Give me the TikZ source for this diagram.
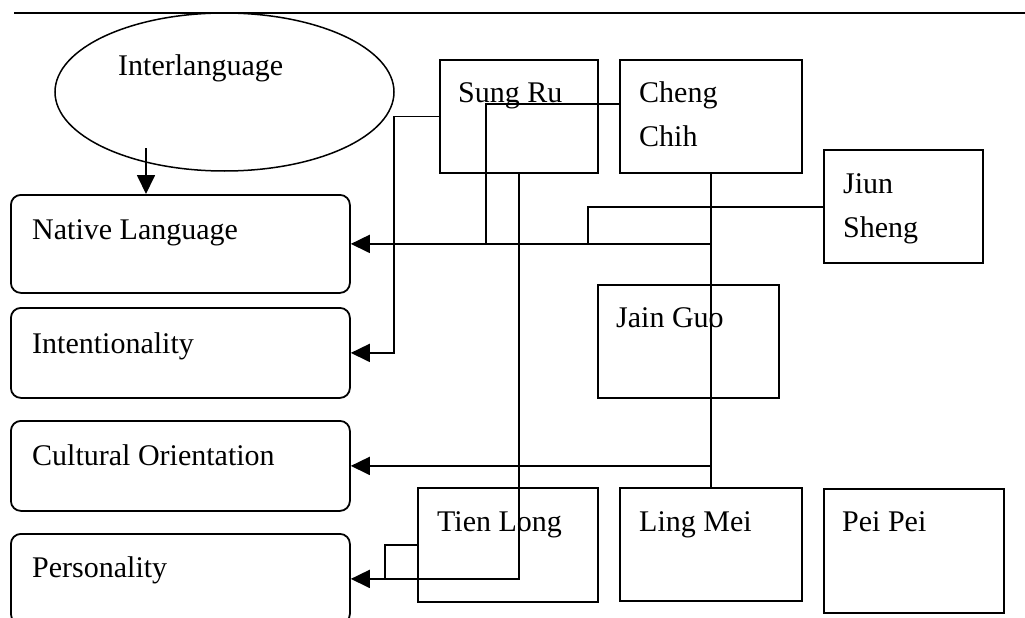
\documentclass[tikz,border=0pt]{standalone}
\usepackage{fontspec}
\setmainfont{Liberation Serif}
\usetikzlibrary{arrows.meta,shapes.geometric}

\begin{document}
\begin{tikzpicture}[x=1pt,y=-1pt,
  every node/.style={font=\fontsize{30}{44}\selectfont},
  pbox/.style={draw,line width=1.8pt,anchor=north west,inner sep=0pt},
  rbox/.style={pbox,rounded corners=10pt,minimum width=339pt},
  txt/.style={anchor=base west,inner sep=0pt,align=left},
  link/.style={line width=1.8pt},
  arr/.style={link,-{Triangle[length=19pt,width=18pt]}}]
	\useasboundingbox (0,0) rectangle (1025,618);
	\clip (0,0) rectangle (1025,618);
	\draw[line width=2.2pt] (14,13) -- (1025,13);
	% ellipse
	\node[draw,ellipse,line width=1.5pt,inner sep=0pt,minimum width=339pt,minimum height=158pt] (interlang) at (224.5,92) {};
	\node[txt] at (118,76) {Interlanguage};
	% left column
	\node[rbox,minimum height=98pt] (native) at (10,194) {};
	\node[rbox,minimum height=90pt] (intent) at (10,307) {};
	\node[rbox,minimum height=90pt] (cultural) at (10,420) {};
	\node[rbox,minimum height=90pt] (personality) at (10,533) {};
	\node[txt] at (32,239) {Native Language};
	\node[txt] at (32,353) {Intentionality};
	\node[txt] at (32,465) {Cultural Orientation};
	\node[txt] at (32,577) {Personality};
	% people
	\node[pbox,minimum width=158pt,minimum height=113pt] (sungru) at (439,59) {};
	\node[pbox,minimum width=182pt,minimum height=113pt] (chengchih) at (619,59) {};
	\node[pbox,minimum width=159pt,minimum height=113pt] (jiunsheng) at (823,149) {};
	\node[pbox,minimum width=181pt,minimum height=113pt] (jainguo) at (597,284) {};
	\node[pbox,minimum width=180pt,minimum height=114pt] (tienlong) at (417,487) {};
	\node[pbox,minimum width=182pt,minimum height=113pt] (lingmei) at (619,487) {};
	\node[pbox,minimum width=180pt,minimum height=124pt] (peipei) at (823,488) {};
	\node[txt] at (458,102) {Sung Ru};
	\node[txt] at (639,146) {Cheng\\Chih};
	\node[txt] at (843,237) {Jiun\\Sheng};
	\node[txt] at (616,327) {Jain Guo};
	\node[txt] at (437,531) {Tien Long};
	\node[txt] at (639,531) {Ling Mei};
	\node[txt] at (842,531) {Pei Pei};
	% links
	\coordinate (ilfoot) at (146,148);
	\draw[arr] (ilfoot) -- (ilfoot |- native.north);
	\draw[arr] (sungru.west) -- ++(-45,0) |- (intent.east);
	\draw[link] (chengchih.south) -- (lingmei.north);
	\draw[arr] (chengchih.south |- native.east) -- (native.east);
	\draw[arr] (chengchih.south |- cultural.east) -- (cultural.east);
	\draw[link] ([yshift=12.5pt]chengchih.west) -| ([xshift=135pt]native.east);
	\draw[link] ([yshift=-0.5pt]jiunsheng.west) -| ([xshift=237pt]native.east);
	\draw[arr] (sungru.south) |- (personality.east);
	\draw[link] (tienlong.west) -| ([xshift=34pt]personality.east);
\end{tikzpicture}
\end{document}
